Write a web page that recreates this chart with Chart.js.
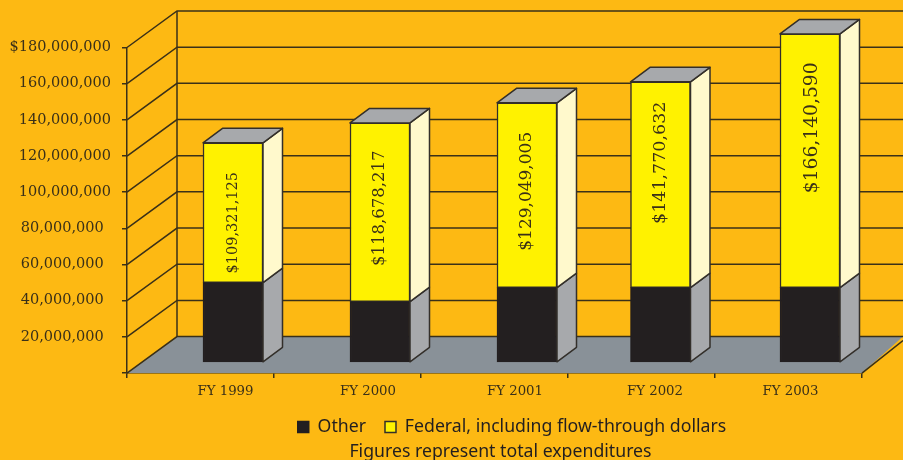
<!DOCTYPE html>
<html>
<head>
<meta charset="utf-8">
<script src="https://cdn.jsdelivr.net/npm/chart.js@4"></script>
<style>
    html, body { margin: 0; padding: 0; background: #FDB913; }
    canvas { display: block; }
</style>
</head>
<body>
<canvas id="grafico" width="903" height="460"></canvas>
<script>
// Datos
const categorias = ['FY 1999', 'FY 2000', 'FY 2001', 'FY 2002', 'FY 2003'];
const valoresOther = [44200000, 33700000, 41400000, 41400000, 41400000];
const valoresFederal = [77300000, 98800000, 102200000, 113800000, 140300000];
const etiquetasFederal = ['$109,321,125', '$118,678,217', '$129,049,005', '$141,770,632', '$166,140,590'];
const leyendaOther = 'Other';
const leyendaFederal = 'Federal, including flow-through dollars';
const nota = 'Figures represent total expenditures';

// Estilos y ajustes de la perspectiva
const fondo = '#FDB913';
const linea = '#3A3018';
const oscuro = '#231F20';
const PARED_DX = 50, PARED_DY = -36.5;
const BARRA_DX = 19.5, BARRA_DY = -14.5, ELEVACION = 10.5;
const ajusteBarra = [32.5, 32.5, 32.5, 19, 21.5];
const ajusteCategoria = [25, 20.5, 20.5, 13.5, 2];
const ajusteEtiquetaX = [0, 0, 0, 0, 2];
const ajusteEtiquetaY = [10, -4, -4, -22, -33];
const fuenteEtiqueta = [14.5, 16.5, 17, 17.5, 18.7];

const perspectiva = {
    id: 'perspectiva',
    beforeDraw(chart) {
        const ctx = chart.ctx;
        ctx.save();
        ctx.fillStyle = fondo;
        ctx.fillRect(0, 0, chart.width, chart.height);
        ctx.restore();
    },
    // Leyenda y nota no van centradas en el canvas
    afterLayout(chart) {
        chart.legend.left += 81;
        chart.legend.right += 81;
        chart.titleBlock.left += 69.5;
        chart.titleBlock.right += 69.5;
        chart.titleBlock.top += 3;
        chart.titleBlock.bottom += 3;
    },
    // Desplaza las barras sobre el piso
    afterDatasetsUpdate(chart) {
        chart.data.datasets.forEach((ds, d) => {
            chart.getDatasetMeta(d).data.forEach((barra, i) => {
                barra.x += ajusteBarra[i];
                barra.y -= ELEVACION;
                barra.base -= ELEVACION;
            });
        });
    },
    // Paredes y piso
    beforeDatasetsDraw(chart) {
        const ctx = chart.ctx;
        const { x: ejeX, y: ejeY } = chart.scales;
        const izq = ejeX.left, der = ejeX.right;
        const cero = ejeY.getPixelForValue(0);
        ctx.save();
        ctx.beginPath();
        ctx.moveTo(izq, cero);
        ctx.lineTo(izq + PARED_DX, cero + PARED_DY);
        ctx.lineTo(chart.width, cero + PARED_DY);
        ctx.lineTo(der, cero);
        ctx.closePath();
        ctx.fillStyle = '#899198';
        ctx.fill();
        ctx.strokeStyle = linea;
        ctx.lineWidth = 1.5;
        ejeY.ticks.forEach(t => {
            const py = ejeY.getPixelForValue(t.value);
            ctx.beginPath();
            ctx.moveTo(izq, py);
            ctx.lineTo(izq + PARED_DX, py + PARED_DY);
            ctx.lineTo(chart.width, py + PARED_DY);
            ctx.stroke();
        });
        ctx.beginPath();
        ctx.moveTo(izq + PARED_DX, ejeY.top + PARED_DY);
        ctx.lineTo(izq + PARED_DX, cero + PARED_DY);
        ctx.moveTo(der, cero);
        ctx.lineTo(chart.width, cero + PARED_DY + 4);
        ctx.stroke();
        ctx.restore();
    },
    // Caras laterales, tapa y textos
    afterDatasetsDraw(chart) {
        const ctx = chart.ctx;
        const lados = ['#A7A9AC', '#FFF9CC'];
        ctx.save();
        ctx.strokeStyle = '#332F2A';
        ctx.lineWidth = 1.5;
        ctx.lineJoin = 'round';
        chart.data.datasets.forEach((ds, d) => {
            chart.getDatasetMeta(d).data.forEach(barra => {
                const x1 = barra.x + barra.width / 2;
                ctx.beginPath();
                ctx.moveTo(x1, barra.y);
                ctx.lineTo(x1 + BARRA_DX, barra.y + BARRA_DY);
                ctx.lineTo(x1 + BARRA_DX, barra.base + BARRA_DY);
                ctx.lineTo(x1, barra.base);
                ctx.closePath();
                ctx.fillStyle = lados[d];
                ctx.fill();
                ctx.stroke();
            });
        });
        chart.getDatasetMeta(1).data.forEach((barra, i) => {
            const x0 = barra.x - barra.width / 2, x1 = barra.x + barra.width / 2;
            ctx.beginPath();
            ctx.moveTo(x0, barra.y);
            ctx.lineTo(x0 + BARRA_DX, barra.y + BARRA_DY);
            ctx.lineTo(x1 + BARRA_DX, barra.y + BARRA_DY);
            ctx.lineTo(x1, barra.y);
            ctx.closePath();
            ctx.fillStyle = '#A7A9AC';
            ctx.fill();
            ctx.stroke();

            // Etiqueta vertical del monto federal
            ctx.save();
            ctx.translate(barra.x + ajusteEtiquetaX[i], (barra.y + barra.base) / 2 + ajusteEtiquetaY[i]);
            ctx.rotate(-Math.PI / 2);
            ctx.font = fuenteEtiqueta[i] + 'px "DejaVu Serif"';
            ctx.fillStyle = linea;
            ctx.textAlign = 'center';
            ctx.textBaseline = 'middle';
            ctx.fillText(etiquetasFederal[i], 0, 0);
            ctx.restore();
        });

        // Categorias del eje X
        const ejeX = chart.scales.x;
        ctx.font = '13.3px "DejaVu Serif"';
        ctx.fillStyle = linea;
        ctx.textAlign = 'center';
        ctx.textBaseline = 'middle';
        categorias.forEach((c, i) => {
            ctx.fillText(c, ejeX.getPixelForTick(i) + ajusteCategoria[i], 392);
        });
        ctx.restore();
    }
};

new Chart(document.getElementById('grafico'), {
    type: 'bar',
    data: {
        labels: categorias,
        datasets: [
            {
                label: leyendaOther,
                data: valoresOther,
                backgroundColor: oscuro,
                borderColor: oscuro,
                borderWidth: 1.5,
                borderSkipped: false,
                barThickness: 60,
                clip: false
            },
            {
                label: leyendaFederal,
                data: valoresFederal,
                backgroundColor: '#FFF200',
                borderColor: '#332F2A',
                borderWidth: 1.5,
                borderSkipped: false,
                barThickness: 60,
                clip: false
            }
        ]
    },
    plugins: [perspectiva],
    options: {
        responsive: false,
        animation: false,
        layout: { padding: { top: 47.5, right: 41, left: 0, bottom: 0 } },
        plugins: {
            tooltip: { enabled: false },
            legend: {
                position: 'bottom',
                labels: {
                    boxWidth: 11,
                    boxHeight: 11,
                    padding: 19,
                    color: oscuro,
                    font: { family: '"Noto Sans"', size: 17.7 }
                }
            },
            title: {
                display: true,
                text: nota,
                position: 'bottom',
                color: oscuro,
                padding: { top: -7, bottom: 0 },
                font: { family: '"Noto Sans"', size: 17.7, weight: 'normal' }
            }
        },
        scales: {
            x: {
                stacked: true,
                afterFit(scale) { scale.height = 26; },
                border: { color: linea, width: 1.5 },
                grid: { drawOnChartArea: false, color: linea, lineWidth: 1.5, tickLength: 5 },
                ticks: { callback: () => '', padding: 0 }
            },
            y: {
                stacked: true,
                min: 0,
                max: 180000000,
                afterFit(scale) { scale.width = 127; },
                border: { color: linea, width: 1.5 },
                grid: { drawOnChartArea: false, color: linea, lineWidth: 1.5, tickLength: 5 },
                ticks: {
                    stepSize: 20000000,
                    padding: 11,
                    color: linea,
                    font: { family: '"DejaVu Serif"', size: 14.5 },
                    callback(valor) {
                        if (valor === 0) return '';
                        const texto = valor.toLocaleString('en-US');
                        if (valor === 180000000) return '$' + texto;
                        return valor < 100000000 ? texto + '\u2002' : texto;
                    }
                }
            }
        }
    }
});
</script>
</body>
</html>
